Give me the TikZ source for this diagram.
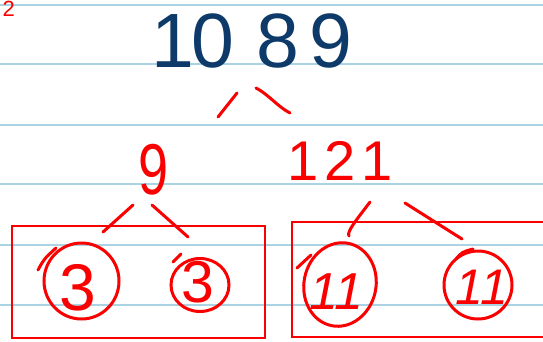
\documentclass[tikz,border=0pt]{standalone}
\usepackage{fontspec}
\setmainfont{Liberation Sans}
\usetikzlibrary{shapes.geometric}
\definecolor{navy}{RGB}{14,58,105}
\definecolor{pen}{RGB}{250,0,0}
\definecolor{rule}{RGB}{170,212,228}
\newcommand\hdig[1]{\makebox[0pt]{#1}}
\begin{document}
\begin{tikzpicture}[x=1pt,y=-1pt,
  ruleline/.style={draw=rule,line width=2.6pt},
  stroke/.style={draw=pen,line width=3pt,line cap=round},
  frame/.style={draw=pen,line width=2.8pt,rectangle,inner sep=0pt},
  ring/.style={ellipse,draw=pen,line width=3pt,inner sep=0pt},
  digits/.style={inner sep=0pt,anchor=base west},
]
\useasboundingbox (0,0) rectangle (543,341);
\clip (0,0) rectangle (543,341);
\fill[white] (0,0) rectangle (543,341);
\foreach \y in {5,64,125,184,245,305} \draw[ruleline] (0,\y) -- (543,\y);

% boxes
\node[frame,minimum width=253pt,minimum height=112pt] (boxL) at (138.5,282) {};
\node[frame,minimum width=328pt,minimum height=115pt] (boxR) at (456,279.5) {};

% numbers
\node[digits,text=pen,font=\fontsize{22}{22}\selectfont] (corner) at (8,16) {\hdig{2}};
\node[digits,text=navy,font=\fontsize{77}{77}\selectfont] (top) at (173,67)
  {\hdig{1}\kern40pt\hdig{0}\kern65pt\hdig{8}\kern53pt\hdig{9}};
\node[digits,text=pen,font=\fontsize{72}{72}\selectfont] (nine) at (153,194) {\hdig{\scalebox{0.75}[1]{9}}};
\node[digits,text=pen,font=\fontsize{56}{56}\selectfont] (oneTwoOne) at (303,180)
  {\hdig{1}\kern37pt\hdig{2}\kern37pt\hdig{1}};
\node[digits,text=pen,font=\fontsize{66}{66}\selectfont] (threeA) at (77,310) {\hdig{3}};
\node[digits,text=pen,font=\fontsize{59}{59}\selectfont] (threeB) at (197,302) {\hdig{3}};
\node[digits,text=pen,font=\fontsize{52}{52}\selectfont\itshape] (elevenA) at (324,309) {\hdig{1}\kern25pt\hdig{1}};
\node[digits,text=pen,font=\fontsize{50}{50}\selectfont\itshape] (elevenB) at (469,304) {\hdig{1}\kern25pt\hdig{1}};

% rings
\node[ring,minimum width=75pt,minimum height=76pt] (ringA) at (81.5,281) {};
\node[ring,minimum width=58pt,minimum height=53pt] (ringB) at (200,285) {};
\node[ring,minimum width=72pt,minimum height=84pt,rotate=-12] (ringC) at (340,284.5) {};
\node[ring,minimum width=68pt,minimum height=68pt] (ringD) at (478,285) {};
\draw[stroke] (38,270) .. controls (44,259) .. (56,248);
\draw[stroke] (181,254) -- (173,262);
\draw[stroke] (297,268) -- (311,255);
\draw[stroke] (456,259) .. controls (462,252) .. (473,249);

% branches
\coordinate (t1) at (237,93);  \coordinate (t2) at (218,117);
\coordinate (t3) at (256,88);  \coordinate (t4) at (290,113);
\coordinate (n1) at (133,205); \coordinate (n2) at (103,232);
\coordinate (n3) at (152,205); \coordinate (n4) at (188,237);
\coordinate (m1) at (370,202); \coordinate (m2) at (349,236);
\coordinate (m3) at (405,203); \coordinate (m4) at (462,239);
\draw[stroke] (t1) -- (t2);
\draw[stroke] (t3) .. controls (268,94) and (278,107) .. (t4);
\draw[stroke] (n1) -- (n2);
\draw[stroke] (n3) -- (n4);
\draw[stroke] (m1) .. controls (358,218) and (346,232) .. (m2);
\draw[stroke] (m3) -- (m4);
\end{tikzpicture}
\end{document}
